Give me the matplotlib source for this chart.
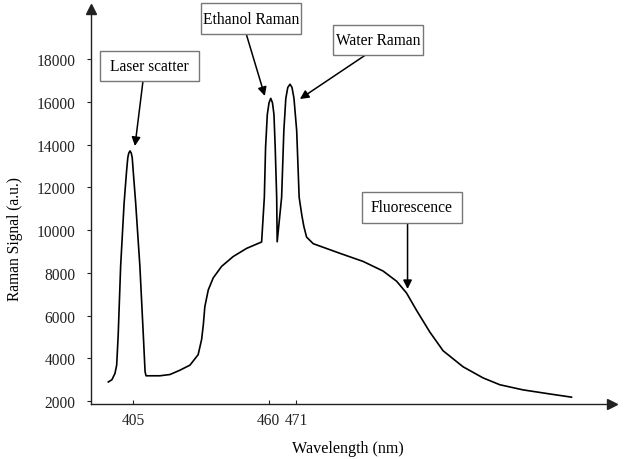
import matplotlib
matplotlib.use("Agg")
import matplotlib.pyplot as plt
from matplotlib.patches import Rectangle

# spectrum read as (wavelength nm, signal a.u.)
wavelength = [
    395.0, 396.5, 397.7, 398.4, 399.0, 400.0, 401.4, 402.4, 402.9, 403.3,
    403.8, 404.3, 404.7, 405.1, 406.1, 407.8, 409.2, 409.9, 410.3,
    415.9, 420.0, 424.0, 428.1, 431.4, 432.8, 433.5, 434.1, 435.5, 437.5,
    440.9, 445.6, 451.0, 457.1,
    458.2, 458.7, 459.4, 460.1, 460.8, 461.5, 462.1, 462.6, 463.2, 463.4,
    465.2, 466.1, 466.9, 467.7, 468.6, 469.4, 470.2, 471.3, 472.3, 473.4,
    474.2, 475.3, 478.0, 488.8, 498.2, 506.3, 511.8, 515.8, 519.8, 525.2,
    530.6, 538.7, 546.8, 553.6, 563.0, 573.8, 582.6,
]
signal = [
    2890, 3000, 3290, 3680, 5050, 8300, 11250, 12750, 13380, 13600,
    13700, 13600, 13380, 12750, 11250, 8300, 5050, 3370, 3180,
    3180, 3240, 3440, 3680, 4170, 4880, 5580, 6410, 7200, 7760,
    8300, 8760, 9140, 9440,
    11530, 13860, 15400, 15950, 16160, 15950, 15400, 13860, 11530, 9450,
    11530, 14650, 16160, 16670, 16820, 16670, 16160, 14650, 11530, 10680,
    10170, 9670, 9360, 8910, 8530, 8080, 7600, 7050, 6250, 5230,
    4350, 3600, 3080, 2760, 2520, 2330, 2180,
]

x_ticks = [405, 460, 471]
y_ticks = [2000, 4000, 6000, 8000, 10000, 12000, 14000, 16000, 18000]

# callout text and the peak each arrow points at
labels = ["Laser scatter", "Ethanol Raman", "Water Raman", "Fluorescence"]
arrow_from = [(409.0, 16920), (451.0, 19120), (499.2, 18190), (516.2, 10330)]
arrow_to = [(405.8, 13930), (458.4, 16270), (472.6, 16130), (516.2, 7240)]

W, H = 627, 460
# callout boxes in pixels: left, top, width, height
boxes = [(100, 52, 99, 30), (200.5, 4, 100.5, 31),
         (333, 25.5, 89.5, 30.5), (361.5, 193, 100, 31)]

plt.rcParams["font.family"] = ["Liberation Serif", "DejaVu Serif"]
plt.rcParams["font.size"] = 11.2

fig = plt.figure(figsize=(W / 100, H / 100), dpi=100)
ax = fig.add_axes([91 / W, 55 / H, 521 / W, 395 / H])

ax.plot(wavelength, signal, color="black", lw=1.2)

ax.set_xlim(388, 599)
ax.set_ylim(1860, 20340)
ax.set_xticks(x_ticks)
ax.set_yticks(y_ticks)

ax.spines["top"].set_visible(False)
ax.spines["right"].set_visible(False)
for side in ("left", "bottom"):
    ax.spines[side].set_color("#222222")
    ax.spines[side].set_linewidth(1.0)

ax.tick_params(axis="x", direction="in", length=3, pad=6, colors="#222222")
ax.tick_params(axis="y", direction="out", length=3, pad=8, colors="#222222")

# arrowheads on the axis ends
ax.plot(1, 0, ">", color="#222222", ms=7, transform=ax.transAxes, clip_on=False)
ax.plot(0, 1, "^", color="#222222", ms=7, transform=ax.transAxes, clip_on=False)

ax.set_xlabel("Wavelength (nm)", fontsize=11.6)
ax.xaxis.set_label_coords(0.493, -0.09)
ax.set_ylabel("Raman Signal (a.u.)", fontsize=11.2)
ax.yaxis.set_label_coords(-0.13, 0.42)

for text, (bx, by, bw, bh), start, tip in zip(labels, boxes, arrow_from, arrow_to):
    ax.annotate("", xy=tip, xytext=start,
                arrowprops=dict(arrowstyle="-|>", color="black", lw=1.1,
                                mutation_scale=13, shrinkA=0, shrinkB=0))
    fig.patches.append(Rectangle((bx / W, 1 - (by + bh) / H), bw / W, bh / H,
                                 transform=fig.transFigure, fc="white",
                                 ec="#777777", lw=1, zorder=3))
    fig.text((bx + bw / 2) / W, 1 - (by + bh / 2) / H, text,
             ha="center", va="center", zorder=4)

fig.savefig("out.png", dpi=100)
